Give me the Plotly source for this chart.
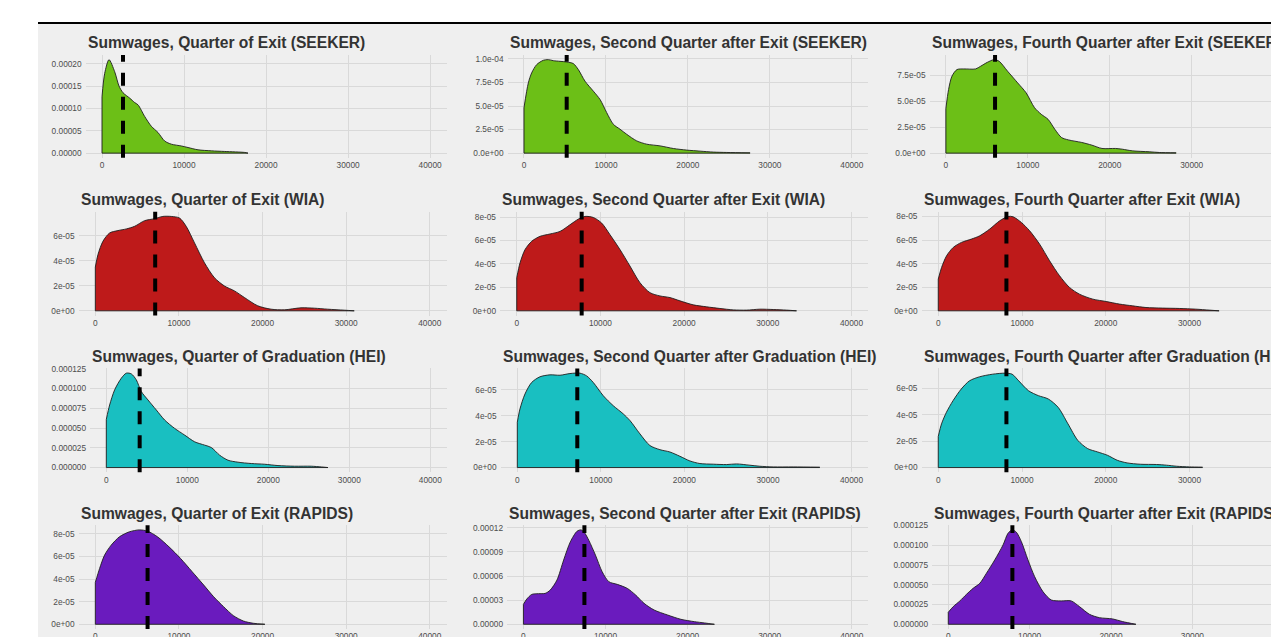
import plotly.graph_objects as go

W = 1271
SCALE = 1e-5  # density values below are in units of 1e-5

# ---------------- data (x = sumwages, y = density * 1e5) ----------------
seeker_q0_x = [0, 325, 854, 1545, 2073, 2561, 3374, 3984, 4390, 5203, 6016, 6829, 7642, 8455, 9675, 10488, 11707, 13333, 14959, 17398, 17800]
seeker_q0_y = [12.6, 17.8, 20.9, 18.2, 15.0, 13.5, 12.3, 11.3, 10.8, 8.2, 6.0, 4.6, 2.7, 2.0, 1.6, 1.25, 0.74, 0.51, 0.37, 0.15, 0.0]

seeker_q2_x = [0, 529, 936, 1546, 2360, 2970, 3581, 4395, 5209, 6022, 6633, 7447, 8464, 9278, 10092, 10905, 11719, 12533, 13754, 14975, 16602, 18230, 19858, 21485, 23113, 24740, 27589]
seeker_q2_y = [4.82, 7.46, 8.52, 9.40, 9.86, 9.93, 9.82, 9.75, 9.68, 9.51, 8.87, 7.64, 6.58, 5.70, 4.30, 3.06, 2.54, 2.0, 1.30, 0.95, 0.77, 0.49, 0.32, 0.21, 0.11, 0.07, 0.03]

seeker_q4_x = [0, 329, 741, 1358, 2181, 3621, 4239, 5062, 5885, 6502, 7531, 8765, 9794, 10823, 11646, 12469, 13292, 14115, 14938, 16584, 17819, 19053, 20700, 21523, 22757, 24815, 26049, 28107]
seeker_q4_y = [4.3, 6.15, 7.44, 8.08, 8.14, 8.14, 8.4, 8.78, 9.04, 8.88, 7.92, 6.79, 5.83, 4.39, 3.75, 3.27, 2.31, 1.51, 1.28, 1.03, 0.77, 0.45, 0.45, 0.38, 0.22, 0.13, 0.06, 0.03]

wia_q0_x = [0, 318, 915, 1711, 2706, 3701, 4697, 5891, 7085, 8080, 9075, 10070, 10866, 11861, 13055, 14249, 15443, 16637, 17831, 19423, 21015, 22607, 24597, 26189, 27781, 29771, 30965]
wia_q0_y = [3.49, 4.49, 5.55, 6.21, 6.40, 6.53, 6.74, 7.19, 7.35, 7.53, 7.53, 7.40, 6.74, 5.42, 3.83, 2.64, 1.98, 1.59, 1.06, 0.40, 0.13, 0.08, 0.24, 0.21, 0.13, 0.05, 0.0]

wia_q2_x = [0, 398, 995, 1791, 2786, 3980, 5174, 6368, 7363, 8159, 9154, 10149, 11144, 12338, 13532, 14726, 15920, 17114, 18308, 19502, 21095, 22687, 24279, 25871, 27463, 29055, 30647, 32239, 33433]
wia_q2_y = [2.83, 4.10, 5.23, 5.94, 6.36, 6.56, 6.78, 7.35, 7.83, 8.06, 7.97, 7.49, 6.50, 5.23, 3.82, 2.40, 1.55, 1.27, 1.13, 0.85, 0.51, 0.34, 0.20, 0.08, 0.06, 0.14, 0.11, 0.06, 0.0]

wia_q4_x = [0, 397, 992, 1786, 2778, 3968, 4960, 6151, 7341, 8333, 8929, 9921, 10913, 12103, 13294, 14484, 15675, 16865, 18452, 20040, 21627, 23214, 24802, 26786, 28770, 30754, 32341, 33532]
wia_q4_y = [2.69, 3.67, 4.66, 5.37, 5.80, 6.08, 6.36, 6.93, 7.63, 8.0, 7.97, 7.49, 6.78, 5.65, 4.24, 2.97, 1.98, 1.41, 0.99, 0.79, 0.57, 0.42, 0.28, 0.23, 0.20, 0.14, 0.06, 0.0]

hei_q0_x = [0, 412, 1029, 1852, 2469, 3086, 3704, 4321, 5144, 6173, 7202, 8436, 9671, 10905, 12140, 12963, 13992, 15021, 16255, 17901, 19547, 21193, 23251, 25309, 26543, 27366]
hei_q0_y = [6.10, 7.92, 9.83, 11.31, 11.95, 11.86, 11.10, 9.62, 8.56, 7.29, 6.02, 4.96, 4.11, 3.26, 2.84, 2.54, 1.57, 0.93, 0.68, 0.51, 0.42, 0.25, 0.17, 0.17, 0.08, 0.0]

hei_q2_x = [0, 319, 917, 1715, 2712, 3908, 5105, 6301, 7498, 8295, 9093, 10289, 11486, 12682, 13479, 14676, 15872, 17069, 18265, 19462, 20658, 21854, 23450, 25045, 26241, 27836, 29033, 30628, 33021, 36211]
hei_q2_y = [3.50, 4.52, 5.67, 6.56, 7.0, 7.15, 7.12, 7.25, 7.28, 7.07, 6.56, 5.54, 4.77, 4.14, 3.63, 2.60, 1.70, 1.38, 1.20, 0.87, 0.51, 0.31, 0.26, 0.23, 0.28, 0.18, 0.10, 0.05, 0.05, 0.03]

hei_q4_x = [0, 392, 980, 1765, 2745, 3725, 4902, 6471, 8039, 8824, 9608, 10784, 11961, 13137, 14314, 15490, 16667, 17843, 19020, 20196, 21373, 22549, 24118, 26078, 27255, 28431, 30000, 31569]
hei_q4_y = [2.35, 3.3, 4.18, 5.05, 5.93, 6.55, 6.85, 7.05, 7.13, 7.05, 6.55, 5.8, 5.43, 5.18, 4.55, 3.3, 2.05, 1.43, 1.18, 0.93, 0.55, 0.35, 0.25, 0.23, 0.18, 0.10, 0.05, 0.03]

rapids_q0_x = [0, 514, 1107, 1897, 2885, 4071, 5257, 6245, 7431, 8814, 10198, 11581, 12964, 14150, 15336, 16522, 17708, 18893, 20277]
rapids_q0_y = [3.71, 4.94, 6.12, 7.0, 7.74, 8.18, 8.35, 8.24, 7.74, 6.85, 5.82, 4.65, 3.47, 2.44, 1.56, 0.76, 0.29, 0.09, 0.0]

rapids_q2_x = [0, 408, 1020, 1837, 2653, 3265, 4082, 4898, 5714, 6531, 7020, 7429, 7959, 8776, 9592, 10408, 11429, 12653, 13673, 14694, 15918, 17551, 19184, 20816, 22041, 23265]
rapids_q2_y = [2.48, 3.14, 3.72, 3.81, 3.85, 4.26, 5.50, 7.99, 10.26, 11.58, 11.75, 11.42, 10.47, 8.61, 6.54, 5.30, 4.97, 4.47, 3.64, 2.61, 1.78, 1.16, 0.62, 0.33, 0.17, 0.0]

rapids_q4_x = [0, 612, 1429, 2245, 3061, 3878, 4694, 5714, 6735, 7347, 7878, 8367, 8980, 9796, 10612, 11633, 12653, 13878, 15102, 16122, 17347, 18571, 20204, 21429, 23061]
rapids_q4_y = [1.52, 2.24, 2.96, 3.80, 4.56, 5.19, 6.46, 8.15, 10.05, 11.53, 11.95, 11.66, 10.47, 8.15, 6.04, 4.14, 3.08, 2.96, 2.96, 2.24, 1.27, 0.84, 0.68, 0.34, 0.0]

# mean (dashed line) positions
seeker_means = [2560, 5210, 6000]
wia_means = [7160, 7760, 8140]
hei_means = [4120, 7180, 8140]
rapids_means = [6250, 7430, 7880]

titles = [
    "Sumwages, Quarter of Exit (SEEKER)", "Sumwages, Second Quarter after Exit (SEEKER)", "Sumwages, Fourth Quarter after Exit (SEEKER)",
    "Sumwages, Quarter of Exit (WIA)", "Sumwages, Second Quarter after Exit (WIA)", "Sumwages, Fourth Quarter after Exit (WIA)",
    "Sumwages, Quarter of Graduation (HEI)", "Sumwages, Second Quarter after Graduation (HEI)", "Sumwages, Fourth Quarter after Graduation (HEI)",
    "Sumwages, Quarter of Exit (RAPIDS)", "Sumwages, Second Quarter after Exit (RAPIDS)", "Sumwages, Fourth Quarter after Exit (RAPIDS)",
]

x_tickvals = [0, 10000, 20000, 30000, 40000]
x_ticktext = ["0", "10000", "20000", "30000", "40000"]

ytick_seeker_q0 = ([0, 5, 10, 15, 20], ["0.00000", "0.00005", "0.00010", "0.00015", "0.00020"])
ytick_seeker_q2 = ([0, 2.5, 5, 7.5, 10], ["0.0e+00", "2.5e-05", "5.0e-05", "7.5e-05", "1.0e-04"])
ytick_seeker_q4 = ([0, 2.5, 5, 7.5], ["0.0e+00", "2.5e-05", "5.0e-05", "7.5e-05"])
ytick_e6 = ([0, 2, 4, 6], ["0e+00", "2e-05", "4e-05", "6e-05"])
ytick_e8 = ([0, 2, 4, 6, 8], ["0e+00", "2e-05", "4e-05", "6e-05", "8e-05"])
ytick_125 = ([0, 2.5, 5, 7.5, 10, 12.5], ["0.000000", "0.000025", "0.000050", "0.000075", "0.000100", "0.000125"])
ytick_12 = ([0, 3, 6, 9, 12], ["0.00000", "0.00003", "0.00006", "0.00009", "0.00012"])

colors = {"SEEKER": "#6cbf17", "WIA": "#be1a1a", "HEI": "#19bfc1", "RAPIDS": "#6a1bbe"}

panels = [
    (seeker_q0_x, seeker_q0_y, seeker_means[0], colors["SEEKER"], ytick_seeker_q0),
    (seeker_q2_x, seeker_q2_y, seeker_means[1], colors["SEEKER"], ytick_seeker_q2),
    (seeker_q4_x, seeker_q4_y, seeker_means[2], colors["SEEKER"], ytick_seeker_q4),
    (wia_q0_x, wia_q0_y, wia_means[0], colors["WIA"], ytick_e6),
    (wia_q2_x, wia_q2_y, wia_means[1], colors["WIA"], ytick_e8),
    (wia_q4_x, wia_q4_y, wia_means[2], colors["WIA"], ytick_e8),
    (hei_q0_x, hei_q0_y, hei_means[0], colors["HEI"], ytick_125),
    (hei_q2_x, hei_q2_y, hei_means[1], colors["HEI"], ytick_e6),
    (hei_q4_x, hei_q4_y, hei_means[2], colors["HEI"], ytick_e6),
    (rapids_q0_x, rapids_q0_y, rapids_means[0], colors["RAPIDS"], ytick_e8),
    (rapids_q2_x, rapids_q2_y, rapids_means[1], colors["RAPIDS"], ytick_12),
    (rapids_q4_x, rapids_q4_y, rapids_means[2], colors["RAPIDS"], ytick_125),
]

# ---------------- layout geometry (target pixels) ----------------
HF = 641                      # figure height
SY, OY = 645 / 637, 4         # page-to-picture vertical correction


def py(ref_y):
    """target picture y (px from top) -> paper fraction"""
    return 1 - (ref_y * SY - OY) / HF


left_px = [[85.6, 507.6, 929.5], [78.6, 500.0, 921.5], [90.1, 500.6, 921.5], [78.6, 507.0, 932.0]]
right_px = [446.5, 868.2, 1290.0]
tops = [54, 211, 368, 525]
bottoms = [157, 315, 472, 629]

BG = "#efefef"
GRID = "#d9d9d9"
OUTLINE = "#1e1e1e"
FONT = "Liberation Sans, Arial, sans-serif"

fig = go.Figure()
layout = dict(
    width=W, height=HF, margin=dict(l=0, r=0, t=0, b=0),
    paper_bgcolor="white", plot_bgcolor="rgba(0,0,0,0)",
    showlegend=False, font=dict(family=FONT),
    shapes=[], annotations=[],
)

# grey canvas & top rule
layout["shapes"].append(dict(type="rect", xref="paper", yref="paper", x0=38 / W, x1=1, y0=0, y1=py(23),
                             fillcolor=BG, line=dict(width=0), layer="below"))
layout["shapes"].append(dict(type="line", xref="paper", yref="paper", x0=38 / W, x1=1, y0=py(22), y1=py(22),
                             line=dict(color="black", width=2), layer="above"))

for r in range(4):
    for c in range(3):
        k = r * 3 + c
        i = k + 1
        xs, ys, mean, col, (ytv, ytt) = panels[k]
        L = left_px[r][c]
        R = right_px[c]
        xr0, xr1 = -2000.0, 42000.0
        if R > W:
            xr1 = xr0 + (xr1 - xr0) * (W - L) / (R - L)
            R = W
        ymax = max(ys)
        yr = [-0.05 * ymax * SCALE, 1.05 * ymax * SCALE]
        xa = "x" if i == 1 else f"x{i}"
        ya = "y" if i == 1 else f"y{i}"
        xname = "xaxis" if i == 1 else f"xaxis{i}"
        yname = "yaxis" if i == 1 else f"yaxis{i}"
        layout[xname] = dict(domain=[L / W, min(R / W, 1)], range=[xr0, xr1], anchor=ya,
                             tickmode="array", tickvals=x_tickvals, ticktext=x_ticktext,
                             showgrid=True, gridcolor=GRID, gridwidth=1, zeroline=False, showline=False,
                             ticks="", tickfont=dict(size=8.3, color="#4d4d4d", family=FONT),
                             ticklabelstandoff=1, fixedrange=True)
        layout[yname] = dict(domain=[py(bottoms[r]), py(tops[r])], range=yr, anchor=xa,
                             tickmode="array", tickvals=[v * SCALE for v in ytv], ticktext=ytt,
                             showgrid=True, gridcolor=GRID, gridwidth=1, zeroline=False, showline=False,
                             ticks="", tickfont=dict(size=8.3, color="#4d4d4d", family=FONT),
                             ticklabelstandoff=3, fixedrange=True)
        yvals = [v * SCALE for v in ys]
        fig.add_trace(go.Scatter(x=xs, y=yvals, mode="lines", fill="tozeroy", fillcolor=col,
                                 line=dict(color=OUTLINE, width=0.9, shape="spline", smoothing=0.8),
                                 xaxis=xa, yaxis=ya, hoverinfo="skip"))
        # polygon base & left edge outline
        fig.add_trace(go.Scatter(x=[xs[-1], xs[0], xs[0]], y=[0, 0, yvals[0]], mode="lines",
                                 line=dict(color=OUTLINE, width=0.9), xaxis=xa, yaxis=ya, hoverinfo="skip"))
        # mean line
        layout["shapes"].append(dict(type="line", xref=xa, yref=f"{ya} domain", x0=mean, x1=mean, y0=0, y1=1,
                                     line=dict(color="black", width=4, dash="13px,11px"), layer="above"))
        # title
        layout["annotations"].append(dict(text=f"<b>{titles[k]}</b>", xref="paper", yref="paper",
                                          x=L / W, y=py(tops[r] - 12), xanchor="left", yanchor="middle",
                                          showarrow=False, font=dict(size=15.6, color="#333333", family=FONT)))

fig.update_layout(**layout)
fig.write_html("out.html", config={"displayModeBar": False},
               post_script="document.body.style.margin='0';document.body.style.overflow='hidden';")
